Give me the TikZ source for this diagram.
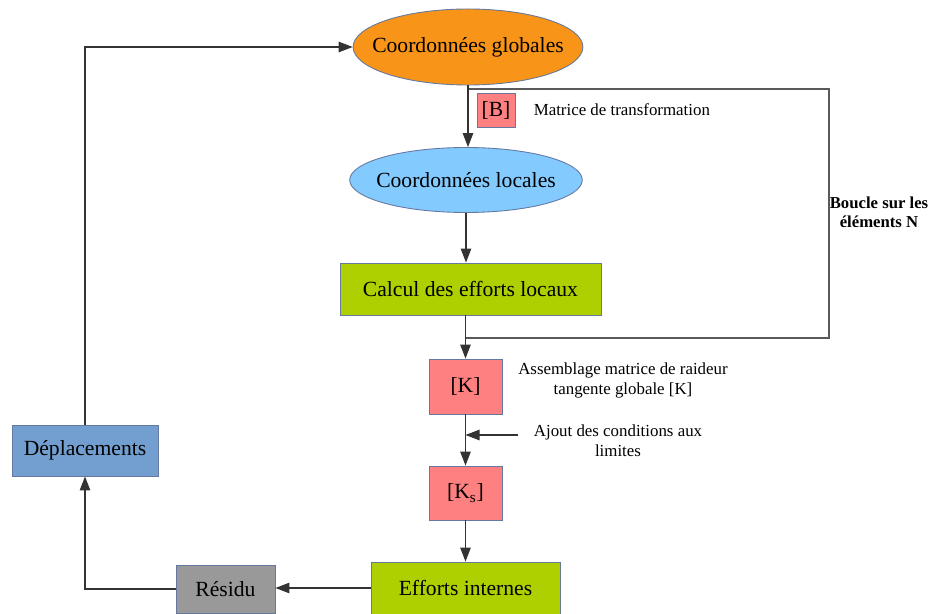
\documentclass[tikz,border=0pt]{standalone}
\usepackage{fontspec}
\setmainfont{Liberation Serif}
\usepackage{tikz}
\usetikzlibrary{arrows.meta, calc, positioning, shapes.geometric}
\definecolor{cglob}{RGB}{248,148,24}
\definecolor{cloc}{RGB}{131,202,255}
\definecolor{cgreen}{RGB}{174,207,0}
\definecolor{cmat}{RGB}{255,128,128}
\definecolor{cblue}{RGB}{114,159,207}
\definecolor{cgray}{RGB}{153,153,153}
\definecolor{cedge}{RGB}{100,120,160}
\tikzset{
  ovalnode/.style = {ellipse, draw=cedge, line width=0.5pt, inner ysep=0pt,
                     font=\fontsize{12.3}{14}\selectfont},
  boxnode/.style  = {rectangle, draw=cedge, line width=0.5pt, inner sep=0pt,
                     minimum height=1.04cm, font=\fontsize{12.3}{14}\selectfont},
  matbox/.style   = {boxnode, fill=cmat, minimum width=1.46cm, minimum height=1.1cm},
  flow/.style     = {-{Triangle[length=2.8mm, width=2.1mm]}, line width=0.6pt, black!80},
  loopline/.style = {line width=0.6pt, black!65},
  lbl/.style      = {font=\fontsize{9.6}{11.4}\selectfont, align=center},
}

\begin{document}
\begin{tikzpicture}
  \useasboundingbox (0,0) rectangle (18.64,-12.28);
  % main column
  \node[ovalnode, fill=cglob, inner xsep=-0.29cm, minimum height=1.52cm] (glob) at (9.36,-0.94) {Coordonnées globales};
  \node[ovalnode, fill=cloc, inner xsep=-0.15cm, minimum height=1.3cm] (loc) at (9.32,-3.6) {Coordonnées locales};
  \node[boxnode, fill=cgreen, minimum width=5.22cm] (calc) at (9.41,-5.78) {Calcul des efforts locaux};
  \node[matbox, minimum width=0.76cm, minimum height=0.68cm] (B) at (9.92,-2.2) {[B]};
  \node[matbox] (K) at (9.31,-7.73) {[K]};
  \node[matbox, minimum height=1.08cm] (Ks) at (9.31,-9.86) {[K\textsubscript{s}]};
  \node[boxnode, fill=cgreen, minimum width=3.78cm] (eff) at (9.31,-11.76) {Efforts internes};
  % return branch
  \node[boxnode, fill=cgray, minimum width=1.98cm, minimum height=0.96cm] (res) at (4.51,-11.78) {Résidu};
  \node[boxnode, fill=cblue, minimum width=2.92cm, minimum height=1.02cm] (dep) at (1.7,-9.01) {Déplacements};

  % notes
  \node[lbl, inner sep=0pt, right=0.36cm of B] (matB) {Matrice de transformation};
  \node[lbl] (assK) at (12.46,-7.6) {Assemblage matrice de raideur\\tangente globale [K]};
  \node[lbl] (ajout) at (12.36,-8.82) {Ajout des conditions aux\\limites};
  \node[lbl, font=\fontsize{9.5}{11}\selectfont\bfseries] (boucle) at (17.58,-4.24) {Boucle sur les\\éléments N};

  % loop over elements
  \coordinate (looptop) at (9.34,-1.78);
  \coordinate (loopbot) at (9.31,-6.76);
  \draw[loopline] (looptop) -- ++(7.24,0) |- (loopbot);

  % connectors
  \draw[flow] (glob.south) -- (glob.south |- loc.north);
  \draw[flow] (loc.south) -- (loc.south |- calc.north);
  \draw[flow] (K.north |- calc.south) -- (K.north);
  \draw[flow] (K) -- (Ks);
  \draw[flow] (Ks) -- (eff);
  \coordinate (cond) at (10.36,-8.7);
  \draw[flow] (cond) -- (cond -| K);
  \draw[flow] (eff.west) -- (eff.west -| res.east);
  \draw[flow] (res.west) -| (dep.south);
  \draw[flow] (dep.north) |- (glob.west);
\end{tikzpicture}
\end{document}
